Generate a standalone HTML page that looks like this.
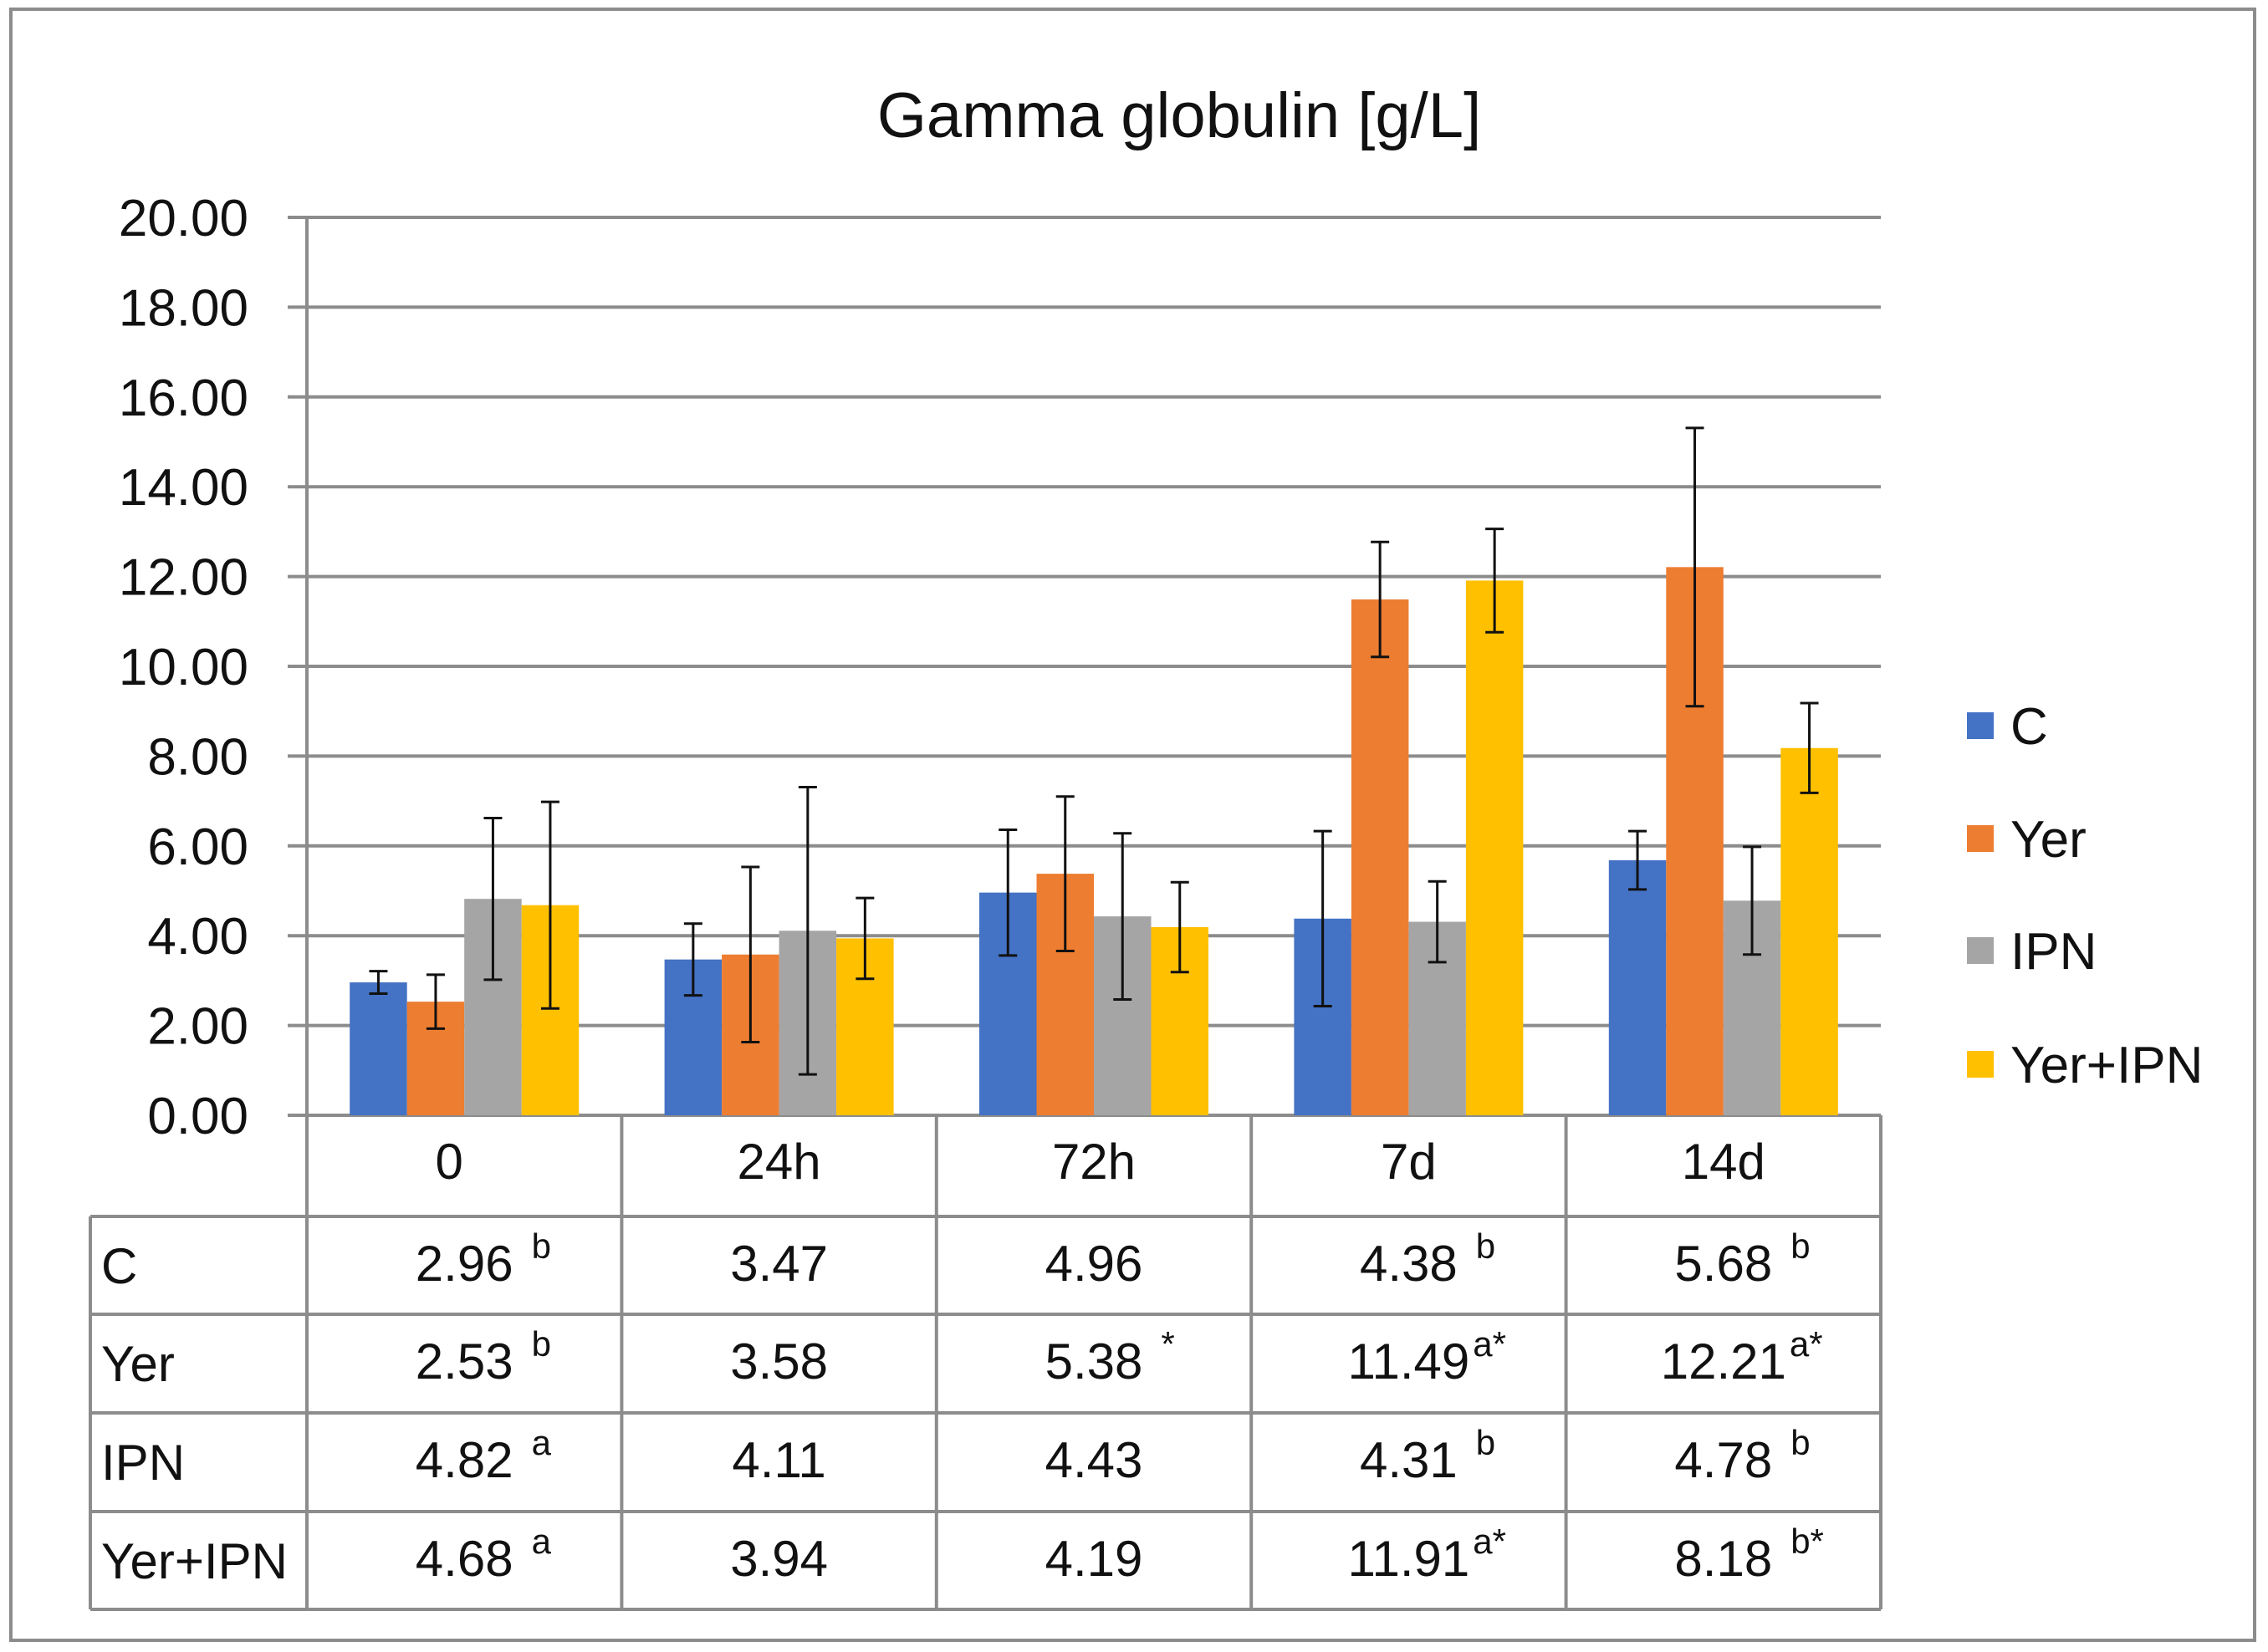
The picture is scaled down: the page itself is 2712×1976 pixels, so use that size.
<!DOCTYPE html>
<html><head><meta charset="utf-8"><style>
html,body{margin:0;padding:0;background:#fff;}
svg{display:block;font-family:"Liberation Sans",sans-serif;}
</style></head><body>
<svg id="chart" width="2712" height="1976" viewBox="0 0 2712 1976" xmlns="http://www.w3.org/2000/svg">
<rect x="13" y="11" width="2683" height="1951" fill="#fff" stroke="#8c8c8c" stroke-width="4"/>
<text x="1410" y="164" font-size="76" text-anchor="middle" fill="#111">Gamma globulin [g/L]</text>
<g id="grid"></g><g id="bars"></g><g id="errs"></g><g id="table"></g><g id="legend"></g>
</svg>
<script>
const categories = ["0","24h","72h","7d","14d"];
const seriesNames = ["C","Yer","IPN","Yer+IPN"];
const seriesC = [2.96,3.47,4.96,4.38,5.68];
const seriesYer = [2.53,3.58,5.38,11.49,12.21];
const seriesIPN = [4.82,4.11,4.43,4.31,4.78];
const seriesYerIPN = [4.68,3.94,4.19,11.91,8.18];
const errC = [0.25,0.8,1.4,1.95,0.65];
const errYer = [0.6,1.95,1.72,1.28,3.1];
const errIPN = [1.8,3.2,1.85,0.9,1.2];
const errYerIPN = [2.3,0.9,1.0,1.15,1.0];
const supC = ["b","","","b","b"];
const supYer = ["b","","*","a*","a*"];
const supIPN = ["a","","","b","b"];
const supYerIPN = ["a","","","a*","b*"];
const yTicks = [0,2,4,6,8,10,12,14,16,18,20];

const series=[seriesC,seriesYer,seriesIPN,seriesYerIPN];
const errs=[errC,errYer,errIPN,errYerIPN];
const sups=[supC,supYer,supIPN,supYerIPN];
const colors=["#4472C4","#ED7D31","#A5A5A5","#FFC000"];
const NS="http://www.w3.org/2000/svg";
const X0=367,X1=2249,Y0=1334,YT=260,YMAX=20;
const catW=(X1-X0)/categories.length;
const y=v=>Y0-(v/YMAX)*(Y0-YT);
const xCat=i=>X0+i*catW;
const barW=68.5,groupOff=(catW-4*barW)/2;
const xBar=(i,s)=>xCat(i)+groupOff+s*barW;
function mk(tag,attrs,parent,txt){const e=document.createElementNS(NS,tag);for(const k in attrs)e.setAttribute(k,attrs[k]);if(txt!==undefined)e.textContent=txt;parent.appendChild(e);return e;}
const grid=document.getElementById('grid');
yTicks.forEach(t=>{
  const l=mk('line',{x1:344,x2:X1,y1:y(t),y2:y(t),stroke:'#8c8c8c','stroke-width':4},grid);
  
  
  const tx=mk('text',{x:297,y:y(t)+22,'font-size':62,'text-anchor':'end',fill:'#111'},grid,t.toFixed(2));
  
  
});
const ax=mk('line',{x1:X0,x2:X0,y1:YT,y2:Y0,stroke:'#8c8c8c','stroke-width':4},grid);


const bars=document.getElementById('bars'),eg=document.getElementById('errs');
series.forEach((arr,s)=>arr.forEach((v,i)=>{
  const r=mk('rect',{x:xBar(i,s),y:y(v),width:barW,height:Y0-y(v),fill:colors[s]},bars);
  
  
  const cx=xBar(i,s)+barW/2,e=errs[s][i];
  const g=mk('g',{stroke:'#111','stroke-width':3},eg);
  
  
  mk('line',{x1:cx,x2:cx,y1:y(v+e),y2:y(v-e)},g);
  mk('line',{x1:cx-11,x2:cx+11,y1:y(v+e),y2:y(v+e)},g);
  mk('line',{x1:cx-11,x2:cx+11,y1:y(v-e),y2:y(v-e)},g);
}));
// table
const tb=document.getElementById('table');
const rowY=[1334,1455,1572,1690,1808,1925];
const L=108;
const st={stroke:'#8c8c8c','stroke-width':4};
for(let k=1;k<rowY.length;k++){const l=mk('line',Object.assign({x1:L,x2:X1,y1:rowY[k],y2:rowY[k]},st),tb);}
const vl=mk('line',Object.assign({x1:L,x2:L,y1:rowY[1],y2:rowY[5]},st),tb);


for(let i=0;i<=categories.length;i++){const l=mk('line',Object.assign({x1:xCat(i),x2:xCat(i),y1:Y0,y2:rowY[5]},st),tb);}
categories.forEach((c,i)=>{
  const t=mk('text',{x:xCat(i)+catW/2-(i==0?18:0),y:1410,'font-size':60,'text-anchor':'middle',fill:'#111'},tb,c);
  
  
});
seriesNames.forEach((n,s)=>{
  const ry=rowY[s+1];
  const t=mk('text',{x:121,y:ry+80,'font-size':60,fill:'#111'},tb,n);
  
  
  series[s].forEach((v,i)=>{
    const cx=xCat(i)+catW/2;
    const tv=mk('text',{x:cx,y:ry+77,'font-size':60,'text-anchor':'middle',fill:'#111'},tb,v.toFixed(2));
    
    
    if(sups[s][i]){
      const w=tv.getComputedTextLength()/2+(v>=10?4:22);
      const sp=mk('text',{x:cx+w,y:ry+50,'font-size':42,fill:'#111'},tb,sups[s][i]);
      
      
    }
  });
});
// legend
const lg=document.getElementById('legend');
const legY=[868,1003,1137,1273];
seriesNames.forEach((n,s)=>{
  const g=mk('g',{},lg);
  
  
  mk('rect',{x:2352,y:legY[s]-16,width:32,height:32,fill:colors[s]},g);
  mk('text',{x:2404,y:legY[s]+22,'font-size':62,fill:'#111'},g,n);
});
</script>
</body></html>
